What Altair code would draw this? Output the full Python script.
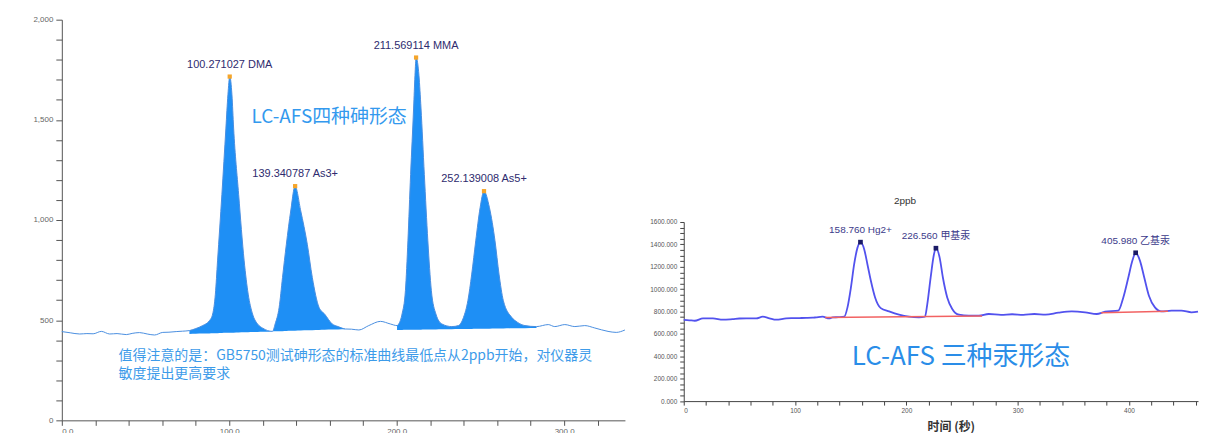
import altair as alt
import pandas as pd

# ---------------- Left chromatogram: four arsenic species ----------------
AS_TIME = [0, 5, 10.7, 15, 18.7, 23.6, 28.6, 33, 38.5, 42, 46.4, 51, 55.4, 60.3, 64, 68.3, 72,
           76.2, 80, 84.1, 88.1, 90.1, 91.7, 93.0, 95.6, 98.0, 99.2, 100.3, 101.6, 102.6, 105.6,
           108.9, 111.3, 113.9, 116.9, 120, 125.8, 127.4, 129.8, 131.8, 134.1, 136.7, 139.3,
           142.7, 146.6, 149.6, 153.6, 157, 161.5, 165, 169.4, 173, 177.4, 183.3, 190.3, 196.2,
           200.2, 201.2, 203.2, 205.2, 206.7, 208.3, 210.1, 210.9, 211.6, 213.3, 214.5, 216.5,
           218.6, 220.7, 223.4, 227, 232.9, 236.9, 239.9, 242.5, 244.8, 247.2, 249.8, 252.1,
           255.4, 258.7, 261.1, 263.7, 268.7, 272, 276.6, 283.5, 290.5, 294.4, 300.4, 306.4,
           312.3, 318.3, 326.2, 331.1, 336.3]
AS_SIGNAL = [443, 437, 431, 433, 432, 444, 431, 433, 428, 434, 438, 431, 426, 439, 440, 443, 445,
             448, 458, 473, 497, 531, 630, 796, 1128, 1459, 1625, 1716, 1625, 1459, 1128,
             796, 630, 531, 481, 460, 444, 481, 564, 713, 879, 1045, 1169,
             1045, 879, 713, 564, 530, 481, 468, 456, 455, 451, 473, 494, 481,
             473, 481, 531, 647, 896, 1227, 1559, 1720, 1811, 1720, 1559, 1227,
             896, 647, 531, 481, 468, 473, 514, 597, 730, 896, 1061, 1144,
             1061, 896, 730, 597, 514, 490, 473, 468, 478, 468, 478, 468,
             473, 461, 444, 439, 451]
AS_PEAK_TIME = [100.271027, 139.340787, 211.569114, 252.139008]
AS_PEAK_HEIGHT = [1716, 1169, 1811, 1144]
AS_PEAK_LABEL = ["100.271027 DMA", "139.340787 As3+", "211.569114 MMA", "252.139008 As5+"]
AS_FILL_START = [76.2, 200.2]
AS_FILL_END = [169.4, 283.5]
AS_FILL_BASE_START = [431, 451]
AS_FILL_BASE_END = [455, 461]
AS_TITLE = ["LC-AFS四种砷形态"]
AS_NOTE = ["值得注意的是：GB5750测试砷形态的标准曲线最低点从2ppb开始，对仪器灵", "敏度提出更高要求"]

# ---------------- Right chromatogram: three mercury species ----------------
HG_TIME = [0, 5, 9.9, 17.3, 26.2, 35.2, 44.1, 50, 56.1, 65.1, 71, 77, 83, 92, 98, 103.9, 110,
           115.8, 118.8, 124.7, 130.7, 133.7, 139, 144.2, 147.1, 150.2, 153.1, 156.1, 158.8,
           162.1, 165, 168.1, 171.9, 177, 184.5, 193.4, 202.4, 211.3, 216.7, 218.8, 221.8,
           224.8, 226.6, 229.9, 232.8, 236.7, 241.2, 247.2, 256.1, 265.1, 274, 285, 295, 305,
           315, 325, 336.7, 348.6, 360.6, 371, 378.5, 390.4, 394.9, 399.4, 403, 406, 409.9,
           413.7, 417.9, 423.3, 429.2, 438.2, 447.1, 456.1, 462]
HG_SIGNAL = [725, 722, 718, 739, 739, 727, 733, 738, 739, 739, 754, 740, 727, 739, 741, 742, 743,
             745, 748, 754, 739, 748, 750, 754, 837, 1015, 1223, 1371, 1420,
             1357, 1223, 1075, 926, 831, 801, 772, 754, 748, 754, 867, 1104,
             1312, 1366, 1282, 1104, 926, 823, 772, 763, 763, 778, 770, 776, 770,
             778, 772, 790, 801, 793, 778, 799, 808, 926, 1104, 1253, 1325, 1253,
             1104, 941, 837, 801, 808, 808, 793, 800]
HG_PEAK_TIME = [158.76, 226.56, 405.98]
HG_PEAK_HEIGHT = [1420, 1366, 1325]
HG_PEAK_LABEL = ["158.760 Hg2+", "226.560 甲基汞", "405.980 乙基汞"]
HG_BASE_START = [127, 375]
HG_BASE_END = [268, 435]
HG_BASE_Y0 = [746, 790]
HG_BASE_Y1 = [760, 803]
HG_TITLE = ["2ppb"]
HG_BIG = ["LC-AFS 三种汞形态"]

LATIN = "Liberation Sans, Arial, Noto Sans CJK SC"
CJK = "Noto Sans CJK SC"

# ---------- left panel ----------
as_df = pd.DataFrame({"t": AS_TIME, "s": AS_SIGNAL})
segs = []
for i in range(len(AS_FILL_START)):
    sub = as_df[(as_df.t >= AS_FILL_START[i]) & (as_df.t <= AS_FILL_END[i])].copy()
    sub["seg"] = i
    sub["x0"] = AS_FILL_START[i]
    sub["x1"] = AS_FILL_END[i]
    sub["b0"] = AS_FILL_BASE_START[i]
    sub["b1"] = AS_FILL_BASE_END[i]
    segs.append(sub)
fill_df = pd.concat(segs)

LX = alt.Scale(domain=[0, 336.3], nice=False, zero=False)
LY = alt.Scale(domain=[0, 2000], nice=False)

x_axis_l = alt.Axis(values=list(range(0, 337, 20)),
                    labelExpr="datum.value % 100 === 0 ? format(datum.value, '.1f') : ''",
                    title=None, grid=False, tickSize=5, labelFontSize=8, labelPadding=2,
                    labelOverlap=False, labelColor="#666", tickColor="#555",
                    domainColor="#555", labelFont=LATIN)
y_axis_l = alt.Axis(values=list(range(0, 2001, 100)),
                    labelExpr="datum.value % 500 === 0 ? format(datum.value, ',') : ''",
                    title=None, grid=False, tickSize=6, labelFontSize=8, labelPadding=3,
                    labelOverlap=False, labelColor="#666", tickColor="#555",
                    domainColor="#555", labelFont=LATIN, minExtent=54, maxExtent=54)


def xl(field):
    return alt.X(field, scale=LX, axis=x_axis_l)


def yl(field):
    return alt.Y(field, scale=LY, axis=y_axis_l)


fill_l = alt.Chart(fill_df).transform_calculate(
    base="datum.b0 + (datum.t - datum.x0) * (datum.b1 - datum.b0) / (datum.x1 - datum.x0)"
).mark_area(color="#1e8ff5", opacity=1, interpolate="monotone").encode(
    x=xl("t:Q"), y=yl("s:Q"), y2="base:Q", detail="seg:N")
line_l = alt.Chart(as_df).mark_line(color="#4a8fe0", strokeWidth=1, interpolate="monotone").encode(
    x=xl("t:Q"), y=yl("s:Q"))

as_peaks = pd.DataFrame({"t": AS_PEAK_TIME, "h": AS_PEAK_HEIGHT, "lab": AS_PEAK_LABEL})
mk_l = alt.Chart(as_peaks).mark_square(color="#f5a52a", size=18, opacity=1).encode(
    x=xl("t:Q"), y=yl("h:Q"))
lab_l = alt.Chart(as_peaks).mark_text(font=LATIN, fontSize=11, color="#2e2b6e", dy=-12,
                                      baseline="middle", align="center").encode(
    x=xl("t:Q"), y=yl("h:Q"), text="lab:N")

title_l = alt.Chart(pd.DataFrame({"t": [113.3], "y": [1515], "txt": AS_TITLE})).mark_text(
    font=CJK, fontSize=19, color="#3399ee", align="left", baseline="middle").encode(
    x=xl("t:Q"), y=yl("y:Q"), text="txt:N")
note_l = alt.Chart(pd.DataFrame({"t": [33.9, 33.9], "y": [319, 230], "txt": AS_NOTE})).mark_text(
    font=CJK, fontSize=14, color="#3d9be9", align="left", baseline="middle").encode(
    x=xl("t:Q"), y=yl("y:Q"), text="txt:N")

left = alt.layer(fill_l, line_l, mk_l, lab_l, title_l, note_l).properties(width=565, height=402)

# ---------- right panel ----------
hg_df = pd.DataFrame({"t": HG_TIME, "s": HG_SIGNAL})
RX = alt.Scale(domain=[0, 462], nice=False, zero=False)
RY = alt.Scale(domain=[0, 1600], nice=False)
SY = alt.Scale(domain=[0, 100], nice=False)

x_axis_r = alt.Axis(values=list(range(0, 461, 20)),
                    labelExpr="datum.value % 100 === 0 ? format(datum.value, 'd') : ''",
                    title="时间 (秒)", titleFont=CJK, titleFontSize=12, titleFontWeight="bold",
                    titleColor="#333", titleX=268, titleY=26, titleBaseline="middle",
                    titleAlign="center", labelOverlap=False,
                    grid=False, tickSize=4, labelFontSize=6.5, labelPadding=2,
                    labelColor="#555", tickColor="#444", domainColor="#444", labelFont=LATIN)
y_axis_r = alt.Axis(values=list(range(0, 1601, 50)),
                    labelExpr="datum.value % 200 === 0 ? format(datum.value, '.3f') : ''",
                    title=None, grid=False, tickSize=4, labelFontSize=6.5,
                    labelOverlap=False, labelPadding=3, labelColor="#555", tickColor="#444",
                    domainColor="#444", labelFont=LATIN, minExtent=44, maxExtent=44)


def xr(field):
    return alt.X(field, scale=RX, axis=x_axis_r)


def yr(field):
    return alt.Y(field, scale=RY, axis=y_axis_r)


line_r = alt.Chart(hg_df).mark_line(color="#5252ee", strokeWidth=1.8, interpolate="monotone").encode(
    x=xr("t:Q"), y=yr("s:Q"))

base_df = pd.DataFrame({"x": HG_BASE_START, "x2": HG_BASE_END, "y": HG_BASE_Y0, "y2": HG_BASE_Y1})
base_r = alt.Chart(base_df).mark_rule(color="#f26262", strokeWidth=1.5).encode(
    x=xr("x:Q"), x2="x2:Q", y=yr("y:Q"), y2="y2:Q")

hg_peaks = pd.DataFrame({"t": HG_PEAK_TIME, "h": HG_PEAK_HEIGHT, "lab": HG_PEAK_LABEL})
mk_r = alt.Chart(hg_peaks).mark_square(color="#1a1a66", size=22, opacity=1).encode(
    x=xr("t:Q"), y=yr("h:Q"))
lab_r = alt.Chart(hg_peaks).mark_text(font=LATIN, fontSize=10, color="#3b3a8a", dy=-12,
                                      baseline="middle", align="center").encode(
    x=xr("t:Q"), y=yr("h:Q"), text="lab:N")

big_r = alt.Chart(pd.DataFrame({"t": [151], "y": [392], "txt": HG_BIG})).mark_text(
    font=CJK, fontSize=26, color="#2a8de8", align="left", baseline="middle").encode(
    x=xr("t:Q"), y=yr("y:Q"), text="txt:N")

right = alt.layer(line_r, base_r, mk_r, lab_r, big_r).properties(width=516, height=179.7)

# empty band above the right chromatogram, carrying its "2ppb" caption
top_r = alt.Chart(pd.DataFrame({"t": [198.8], "y": [8.8], "txt": HG_TITLE})).mark_text(
    font=LATIN, fontSize=10, color="#333", align="center", baseline="middle").encode(
    x=alt.X("t:Q", scale=RX, axis=None), y=alt.Y("y:Q", scale=SY, axis=None),
    text="txt:N").properties(width=516, height=199.5)

right_col = alt.vconcat(top_r, right, spacing=0)

chart = alt.hconcat(left, right_col, spacing=13).properties(
    padding={"left": 0, "top": 7, "right": 0, "bottom": 0}, background="white"
).configure_view(strokeWidth=0, strokeOpacity=0)

chart.save("out.html", embed_options={"renderer": "svg", "actions": False})
